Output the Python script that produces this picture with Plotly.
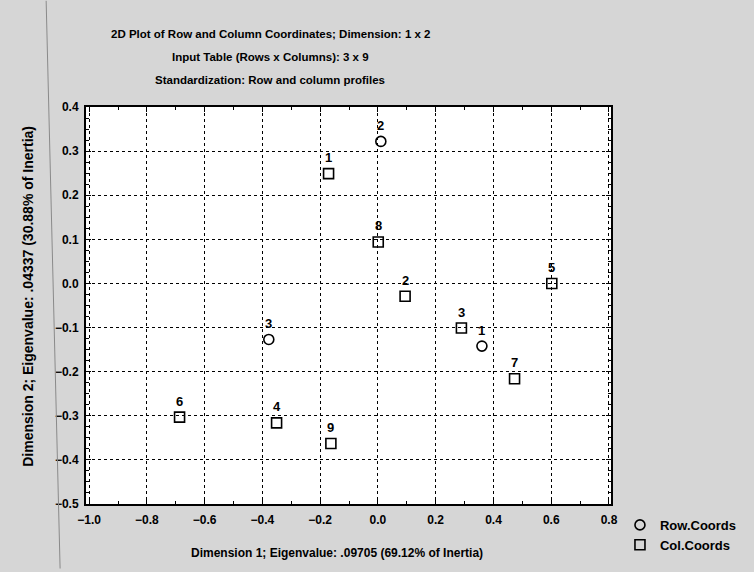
import plotly.graph_objects as go

# Correspondence analysis coordinates
row_labels = ["1", "2", "3"]
row_x = [0.360, 0.010, -0.378]
row_y = [-0.142, 0.322, -0.127]

col_labels = ["1", "2", "3", "4", "5", "6", "7", "8", "9"]
col_x = [-0.171, 0.094, 0.289, -0.351, 0.602, -0.687, 0.473, 0.001, -0.163]
col_y = [0.249, -0.029, -0.101, -0.316, 0.000, -0.303, -0.216, 0.094, -0.363]

x_ticks = [-1.0, -0.8, -0.6, -0.4, -0.2, 0.0, 0.2, 0.4, 0.6, 0.8]
y_ticks = [0.4, 0.3, 0.2, 0.1, 0.0, -0.1, -0.2, -0.3, -0.4, -0.5]

title_lines = [
    "2D Plot of Row and Column Coordinates; Dimension: 1 x 2",
    "Input Table (Rows x Columns): 3 x 9",
    "Standardization: Row and column profiles",
]
x_title = "Dimension 1; Eigenvalue: .09705 (69.12% of Inertia)"
y_title = "Dimension 2; Eigenvalue: .04337 (30.88% of Inertia)"

FONT = "Liberation Sans Narrow, Liberation Sans, Arial, sans-serif"
W, H = 754, 572
L, R, T, B = 86, 141, 107, 65
PW, PH = W - L - R, H - T - B


def px_to_paper_x(px):
    return (px - L) / PW


def px_to_paper_y(py):
    return (H - B - py) / PH


fig = go.Figure()

fig.add_trace(go.Scatter(
    x=row_x, y=row_y, mode="markers", name="Row.Coords",
    marker=dict(symbol="circle-open", size=10, color="black",
                line=dict(color="black", width=1.6)),
))
fig.add_trace(go.Scatter(
    x=col_x, y=col_y, mode="markers", name="Col.Coords",
    marker=dict(symbol="square-open", size=10, color="black",
                line=dict(color="black", width=1.6)),
))

annotations = []
# point labels above each marker
for xs, ys, labs in ((row_x, row_y, row_labels), (col_x, col_y, col_labels)):
    for xv, yv, lab in zip(xs, ys, labs):
        annotations.append(dict(
            x=xv, y=yv, xref="x", yref="y", text="<b>%s</b>" % lab,
            showarrow=False, yshift=16,
            font=dict(family=FONT, size=13, color="black"),
        ))

# three-line heading
for line, py in zip(title_lines, [33, 57, 80]):
    annotations.append(dict(
        x=px_to_paper_x(271), y=px_to_paper_y(py), xref="paper", yref="paper",
        text="<b>%s</b>" % line, showarrow=False,
        xanchor="center", yanchor="middle",
        font=dict(family=FONT, size=11.5, color="black"),
    ))

# axis titles
annotations.append(dict(
    x=px_to_paper_x(338), y=px_to_paper_y(556), xref="paper", yref="paper",
    text="<b>%s</b>" % x_title, showarrow=False,
    xanchor="center", yanchor="middle",
    font=dict(family=FONT, size=12, color="black"),
))
annotations.append(dict(
    x=px_to_paper_x(27), y=px_to_paper_y(298), xref="paper", yref="paper",
    text="<b>%s</b>" % y_title, showarrow=False, textangle=-90,
    xanchor="center", yanchor="middle",
    font=dict(family=FONT, size=14, color="black"),
))

axis_common = dict(
    showline=True, linecolor="black", linewidth=2, mirror="ticks",
    ticks="inside", ticklen=5, tickcolor="black", tickwidth=1,
    showgrid=True, gridcolor="black", gridwidth=1, griddash="dot",
    zeroline=False, tickformat=".1f",
    tickfont=dict(family=FONT, size=12, color="black", weight="bold"),
)

fig.update_layout(
    width=W, height=H,
    margin=dict(l=L, r=R, t=T, b=B),
    paper_bgcolor="#d6d6d6",
    plot_bgcolor="white",
    showlegend=True,
    legend=dict(
        x=px_to_paper_x(622), y=px_to_paper_y(513),
        xanchor="left", yanchor="top",
        bgcolor="rgba(0,0,0,0)",
        font=dict(family=FONT, size=13, color="black", weight="bold"),
        tracegroupgap=0, itemwidth=30,
    ),
    xaxis=dict(range=[-1.011, 0.807], tickvals=x_ticks,
               minor=dict(dtick=0.1, ticks="inside", ticklen=3,
                          tickcolor="black", showgrid=False),
               ticklabelstandoff=4, **axis_common),
    yaxis=dict(range=[-0.5, 0.4], tickvals=y_ticks,
               minor=dict(dtick=0.025, ticks="inside", ticklen=3,
                          tickcolor="black", showgrid=False),
               ticklabelstandoff=3, **axis_common),
    annotations=annotations,
    shapes=[dict(
        type="line", xref="paper", yref="paper",
        x0=px_to_paper_x(46), y0=px_to_paper_y(0),
        x1=px_to_paper_x(60), y1=px_to_paper_y(572),
        line=dict(color="#8a8a8a", width=1),
    )],
)

fig.write_html("out.html")
